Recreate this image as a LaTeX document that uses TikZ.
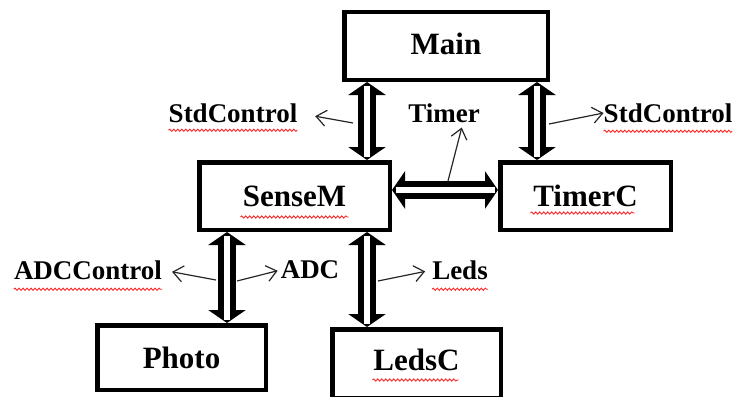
\documentclass[tikz,border=0pt]{standalone}
\usepackage{fontspec}
\setmainfont{Liberation Serif}
\usetikzlibrary{arrows.meta, calc, decorations.pathmorphing}

\begin{document}
\begin{tikzpicture}[
    x=1pt, y=1pt,
    block/.style={
        rectangle, draw=black, line width=4.5pt, fill=white,
        minimum height=67.5pt, inner sep=0pt,
        font=\fontsize{31}{36}\selectfont\bfseries
    },
    iface/.style={inner sep=0pt, font=\fontsize{27}{32}\selectfont\bfseries},
    wire/.style={line width=18pt,
                 {Triangle[length=13pt, width=37pt]}-{Triangle[length=13pt, width=37pt]},
                 postaction={draw=white, line width=6pt, arrows=-,
                             shorten <=3.5pt, shorten >=3.5pt}},
    tap/.style={-{Straight Barb[length=10pt, width=16pt]}, line width=1.2pt,
                black!85},
    squiggle/.style={red!85, line width=0.9pt, decorate,
                     decoration={snake, amplitude=1.1pt, segment length=4pt}}
]
\useasboundingbox (0,0) rectangle (735,-396);

% -------------------------------------------------------------------
% COMPONENTS
% -------------------------------------------------------------------
\node[block, minimum width=203.5pt, text depth=5pt] (main) at (446,-46) {Main};
\node[block, minimum width=190.5pt] (senseM) at (294.5,-196) {SenseM};
\node[block, minimum width=170.5pt] (timerC) at (585.5,-196) {TimerC};
\node[block, minimum width=168.5pt, minimum height=64.5pt] (photo)
    at (181.5,-357.5) {Photo};
\node[block, minimum width=168.5pt, minimum height=68.5pt, text depth=7pt]
    (ledsC) at (416.5,-363.5) {LedsC};

% -------------------------------------------------------------------
% WIRING
% -------------------------------------------------------------------
\coordinate (mainL) at ([xshift=-79pt]main.south);
\coordinate (mainR) at ([xshift=91pt]main.south);
\coordinate (senseR) at ([yshift=6pt]senseM.east);
\coordinate (senseBL) at ([xshift=-67.5pt]senseM.south);
\coordinate (senseBR) at ([xshift=72.5pt]senseM.south);

\draw[wire] (mainL) -- (mainL |- senseM.north);
\draw[wire] (mainR) -- (mainR |- timerC.north);
\draw[wire] (senseR) -- (senseR -| timerC.west);
\draw[wire] (senseBL) -- (senseBL |- photo.north);
\draw[wire] (senseBR) -- (senseBR |- ledsC.north);

% -------------------------------------------------------------------
% INTERFACES
% -------------------------------------------------------------------
\node[iface] (stdL) at (233,-113) {StdControl};
\node[iface] (timerI) at (444,-113) {Timer};
\node[iface] (stdR) at (668,-113) {StdControl};
\node[iface] (adcCtl) at (88,-270) {ADCControl};
\node[iface] (adc) at (310,-270) {ADC};
\node[iface] (leds) at (460,-270) {Leds};

\coordinate (tapStdL) at (353,-123);
\coordinate (tapTimer) at (448,-181);
\coordinate (tapStdR) at (549,-124);
\coordinate (tapAdcCtl) at (216,-280);
\coordinate (tapAdc) at (237,-281);
\coordinate (tapLeds) at (378,-281);

\draw[tap, shorten >=18pt] (tapStdL) -- (stdL.east);
\draw[tap, shorten >=5pt] (tapTimer) -- ([xshift=19pt]timerI.south);
\draw[tap] (tapStdR) -- (stdR.west);
\draw[tap, shorten >=10pt] (tapAdcCtl) -- (adcCtl.east);
\draw[tap, shorten >=3pt] (tapAdc) -- (adc.west);
\draw[tap, shorten >=7pt] (tapLeds) -- (leds.west);

% spell-check marks
\draw[squiggle] ([yshift=-8pt]stdL.base west) -- ([yshift=-8pt]stdL.base east);
\draw[squiggle] ([yshift=-9pt]stdR.base west) -- ([yshift=-9pt]stdR.base east);
\draw[squiggle] ([yshift=-10pt]adcCtl.base west) -- ([yshift=-10pt]adcCtl.base east);
\draw[squiggle] ([yshift=-10pt]leds.base west) -- ([yshift=-10pt]leds.base east);
\draw[squiggle] ($(senseM.center)+(-54,-21)$) -- ++(108,0);
\draw[squiggle] ($(timerC.center)+(-55,-17)$) -- ++(104,0);
\draw[squiggle] ($(ledsC.center)+(-44,-16.5)$) -- ++(86,0);

\end{tikzpicture}
\end{document}
